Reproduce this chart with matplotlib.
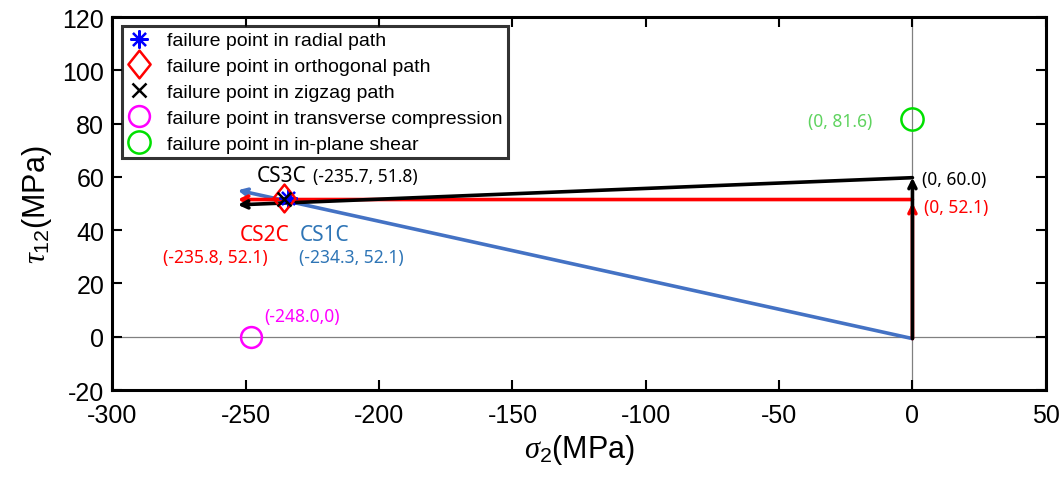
import matplotlib
matplotlib.use("Agg")
import matplotlib.pyplot as plt
from matplotlib.path import Path

plt.rcParams['font.family'] = ['Liberation Sans', 'DejaVu Sans']
plt.rcParams['mathtext.fontset'] = 'custom'
plt.rcParams['mathtext.rm'] = 'Liberation Sans'
plt.rcParams['mathtext.it'] = 'Liberation Serif:italic'
plt.rcParams['axes.unicode_minus'] = False

# loading paths (sigma2, tau12)
radial_x = [0, -253]
radial_y = [-0.7, 55.0]
orth_up_x = [0, 0]
orth_up_y = [-0.7, 50.3]
orth_left_x = [0, -253]
orth_left_y = [51.5, 51.5]
zig_up_x = [0, 0]
zig_up_y = [-0.7, 59.7]
zig_left_x = [0, -253]
zig_left_y = [59.7, 49.5]

# failure points
radial_fail = (-234.3, 52.1)
orth_fail = (-235.8, 52.1)
zig_fail = (-235.7, 51.8)
trans_comp = (-248.0, 0)
shear = (0, 81.6)

xticks = [-300, -250, -200, -150, -100, -50, 0, 50]
yticks = [-20, 0, 20, 40, 60, 80, 100, 120]

blue_line = '#4472C4'
blue_text = '#2E75B6'
red = '#FF0000'
magenta = '#FF00FF'
green = '#00E000'
green_text = '#5FD35F'

fig = plt.figure(figsize=(10.63, 4.85), dpi=100)
ax = fig.add_axes([0.1058, 0.1938, 0.878, 0.769])

ax.axhline(0, color='#808080', lw=0.9, zorder=1)
ax.axvline(0, color='#808080', lw=0.9, zorder=1)


def arrow(xs, ys, color, lw=2.6):
    ax.annotate('', xy=(xs[1], ys[1]), xytext=(xs[0], ys[0]),
                arrowprops=dict(arrowstyle='->,head_length=0.5,head_width=0.25',
                                color=color, lw=lw, shrinkA=0, shrinkB=0),
                zorder=3)


arrow(radial_x, radial_y, blue_line)
arrow(orth_up_x, orth_up_y, red)
arrow(orth_left_x, orth_left_y, red)
arrow(zig_up_x, zig_up_y, 'black')
arrow(zig_left_x, zig_left_y, 'black')

diamond = Path([(0, 1), (0.8, 0), (0, -1), (-0.8, 0), (0, 1)],
               [Path.MOVETO, Path.LINETO, Path.LINETO, Path.LINETO, Path.CLOSEPOLY])

ax.plot(*radial_fail, ls='none', marker=(8, 2, 0), ms=13, mew=1.6, color='blue',
        label='failure point in radial path', zorder=5)
ax.plot(*orth_fail, ls='none', marker=diamond, ms=20, mew=1.8, mfc='none', mec=red,
        label='failure point in orthogonal path', zorder=5)
ax.plot(*zig_fail, ls='none', marker='x', ms=10, mew=1.8, color='black',
        label='failure point in zigzag path', zorder=5)
ax.plot(*trans_comp, ls='none', marker='o', ms=15, mew=1.8, mfc='none', mec=magenta,
        label='failure point in transverse compression', zorder=5)
ax.plot(*shear, ls='none', marker='o', ms=16, mew=1.8, mfc='none', mec=green,
        label='failure point in in-plane shear', zorder=5)

tf = ['Noto Sans', 'DejaVu Sans']
ax.text(-245.9, 60.5, 'CS3C', color='black', fontsize=15, family=tf, va='center')
ax.text(-224.9, 60.5, '(-235.7, 51.8)', color='black', fontsize=12.5, family=tf, va='center')
ax.text(-252.2, 38.3, 'CS2C', color=red, fontsize=15, family=tf, va='center')
ax.text(-229.7, 38.3, 'CS1C', color=blue_text, fontsize=15, family=tf, va='center')
ax.text(-281.1, 30.0, '(-235.8, 52.1)', color=red, fontsize=12.5, family=tf, va='center')
ax.text(-230.1, 30.0, '(-234.3, 52.1)', color=blue_text, fontsize=12.5, family=tf, va='center')
ax.text(-243.2, 7.8, '(-248.0,0)', color=magenta, fontsize=12.5, family=tf, va='center')
ax.text(-39.3, 81.1, '(0, 81.6)', color=green_text, fontsize=12.5, family=tf, va='center')
ax.text(3.5, 59.3, '(0, 60.0)', color='black', fontsize=12.5, family=tf, va='center')
ax.text(4.2, 48.6, '(0, 52.1)', color=red, fontsize=12.5, family=tf, va='center')

ax.set_xlim(-300, 50)
ax.set_ylim(-20, 120)
ax.set_xticks(xticks)
ax.set_yticks(yticks)
ax.tick_params(direction='in', length=7, width=1.5, top=True, right=True,
               labelsize=18)
ax.tick_params(axis='x', pad=9)
ax.tick_params(axis='y', pad=6)
for s in ax.spines.values():
    s.set_linewidth(2.2)

ax.set_xlabel(r'$\sigma_2$(MPa)', fontsize=22, labelpad=4)
ax.set_ylabel(r'$\tau_{12}$(MPa)', fontsize=22, labelpad=6)

leg = ax.legend(loc='upper left', bbox_to_anchor=(0.0102, 0.976), borderaxespad=0,
                fontsize=14, frameon=True, fancybox=False, handlelength=1.2,
                handletextpad=0.8, labelspacing=0.42, borderpad=0.3)
leg.get_frame().set_edgecolor('black')
leg.get_frame().set_linewidth(2.2)

fig.savefig('out.png', dpi=100)
